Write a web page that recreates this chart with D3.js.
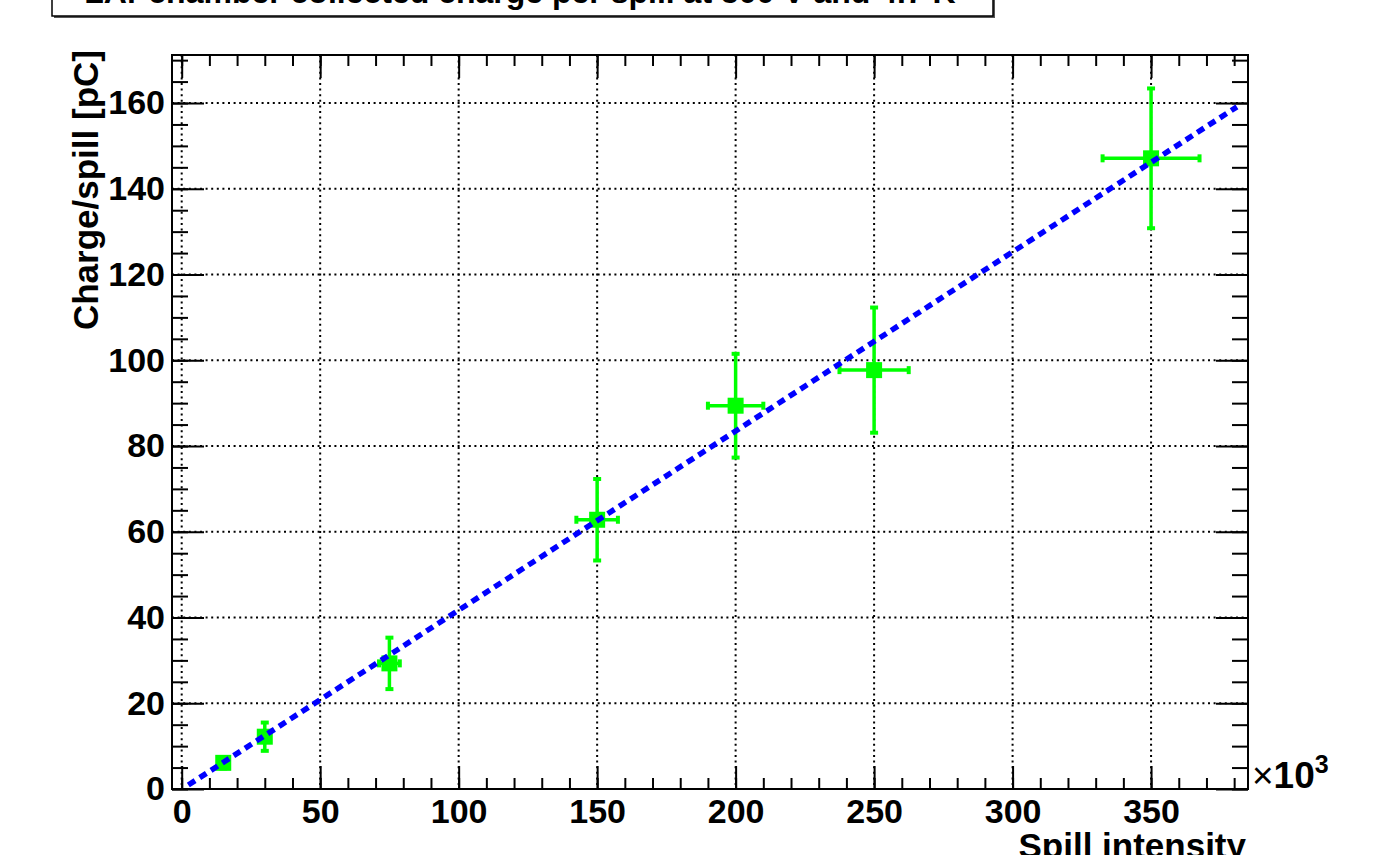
<!DOCTYPE html>
<html>
<head>
<meta charset="utf-8">
<script src="https://cdn.jsdelivr.net/npm/d3@7"></script>
<style>
  html, body { margin: 0; padding: 0; background: #fff; }
  svg { display: block; }
  text { font-family: "Liberation Sans", Arial, Helvetica, sans-serif; font-weight: bold; fill: #000; }
</style>
</head>
<body>
<svg id="chart" width="1387" height="855"></svg>
<script>
// ---- data ----
const titleText = "LAr chamber collected charge per spill at 500 V and 4.7 K";
const xLabel = "Spill intensity";
const yLabel = "Charge/spill [pC]";
const xVals = [15, 30, 75, 150, 200, 250, 350];          // x 10^3
const yVals = [6.1, 12.2, 29.3, 62.8, 89.4, 97.7, 147.1]; // pC
const xErrs = [0.75, 1.5, 3.75, 7.5, 10, 12.5, 17.5];
const yErrs = [1.3, 3.3, 6.0, 9.5, 12.1, 14.6, 16.3];
const fitParams = [0.4178, -0.07];   // slope, intercept
const fitRange = [2.4, 381];
const xMajorTicks = [0, 50, 100, 150, 200, 250, 300, 350];
const yMajorTicks = [0, 20, 40, 60, 80, 100, 120, 140, 160];
const xDomain = [-3.5, 385];
const yDomain = [0, 171.2];

// ---- layout ----
const L = 172, R = 1248, T = 55, B = 789;
const svg = d3.select("#chart");
const x = d3.scaleLinear().domain(xDomain).range([L, R]);
const y = d3.scaleLinear().domain(yDomain).range([B, T]);

// title box
const tb = svg.append("g");
tb.append("rect").attr("x", 54).attr("y", -10).attr("width", 941).attr("height", 28).attr("fill", "#555");
tb.append("rect").attr("x", 52).attr("y", -10).attr("width", 941).attr("height", 26)
  .attr("fill", "#fff").attr("stroke", "#000").attr("stroke-width", 1.5);
tb.append("text").attr("x", 520).attr("y", 3).attr("text-anchor", "middle")
  .attr("font-size", 32).text(titleText);

// grid
const grid = svg.append("g").attr("stroke", "#000").attr("stroke-width", 2)
  .attr("stroke-dasharray", "2,3.6");
grid.selectAll("line.gx").data(xMajorTicks).join("line")
  .attr("x1", d => x(d)).attr("x2", d => x(d)).attr("y1", T).attr("y2", B);
grid.selectAll("line.gy").data(yMajorTicks.filter(d => d > 0)).join("line")
  .attr("x1", L).attr("x2", R).attr("y1", d => y(d)).attr("y2", d => y(d));

// axes
const xMinor = d3.range(0, 381, 10);
const yMinor = d3.range(0, 171, 5);
function styleAxis(g) {
  g.select(".domain").remove();
  g.selectAll("line").attr("stroke", "#000").attr("stroke-width", 2);
  g.selectAll("text").attr("font-size", 34).attr("font-family", "Liberation Sans, Arial, sans-serif").attr("font-weight", "bold");
}
svg.append("g").attr("transform", `translate(0,${B})`)
  .call(d3.axisBottom(x).tickValues(xMinor).tickSize(-11).tickFormat("")).call(styleAxis);
svg.append("g").attr("transform", `translate(0,${B})`)
  .call(d3.axisBottom(x).tickValues(xMajorTicks).tickSize(-23).tickPadding(10).tickFormat(d3.format("d"))).call(styleAxis);
svg.append("g").attr("transform", `translate(0,${T})`)
  .call(d3.axisTop(x).tickValues(xMinor).tickSize(-11).tickFormat("")).call(styleAxis);
svg.append("g").attr("transform", `translate(0,${T})`)
  .call(d3.axisTop(x).tickValues(xMajorTicks).tickSize(-23).tickFormat("")).call(styleAxis);
svg.append("g").attr("transform", `translate(${L},0)`)
  .call(d3.axisLeft(y).tickValues(yMinor).tickSize(-16).tickFormat("")).call(styleAxis);
svg.append("g").attr("transform", `translate(${L},0)`)
  .call(d3.axisLeft(y).tickValues(yMajorTicks).tickSize(-32).tickPadding(7).tickFormat(d3.format("d"))).call(styleAxis);
svg.append("g").attr("transform", `translate(${R},0)`)
  .call(d3.axisRight(y).tickValues(yMinor).tickSize(-16).tickFormat("")).call(styleAxis);
svg.append("g").attr("transform", `translate(${R},0)`)
  .call(d3.axisRight(y).tickValues(yMajorTicks).tickSize(-32).tickFormat("")).call(styleAxis);

// frame
svg.append("rect").attr("x", L).attr("y", T).attr("width", R - L).attr("height", B - T)
  .attr("fill", "none").attr("stroke", "#000").attr("stroke-width", 2);

// data points
const pts = xVals.map((v, i) => ({ x: v, y: yVals[i], ex: xErrs[i], ey: yErrs[i] }));
const green = "#00ff00";
const pg = svg.append("g");
const cap = 4;
pts.forEach(p => {
  const cx = x(p.x), cy = y(p.y);
  const g = pg.append("g").attr("stroke", green);
  g.append("line").attr("x1", cx).attr("x2", cx).attr("y1", y(p.y + p.ey)).attr("y2", y(p.y - p.ey)).attr("stroke-width", 3.5);
  g.append("line").attr("x1", x(p.x - p.ex)).attr("x2", x(p.x + p.ex)).attr("y1", cy).attr("y2", cy).attr("stroke-width", 3.5);
  // caps
  g.append("line").attr("x1", cx - cap).attr("x2", cx + cap).attr("y1", y(p.y + p.ey)).attr("y2", y(p.y + p.ey)).attr("stroke-width", 4);
  g.append("line").attr("x1", cx - cap).attr("x2", cx + cap).attr("y1", y(p.y - p.ey)).attr("y2", y(p.y - p.ey)).attr("stroke-width", 4);
  g.append("line").attr("x1", x(p.x - p.ex)).attr("x2", x(p.x - p.ex)).attr("y1", cy - cap).attr("y2", cy + cap).attr("stroke-width", 4);
  g.append("line").attr("x1", x(p.x + p.ex)).attr("x2", x(p.x + p.ex)).attr("y1", cy - cap).attr("y2", cy + cap).attr("stroke-width", 4);
  pg.append("rect").attr("x", cx - 8).attr("y", cy - 8).attr("width", 16).attr("height", 16).attr("fill", green);
});

// fit line
const fitPts = fitRange.map(v => [v, fitParams[0] * v + fitParams[1]]);
svg.append("path").datum(fitPts)
  .attr("d", d3.line().x(d => x(d[0])).y(d => y(d[1])))
  .attr("fill", "none").attr("stroke", "#0000ff").attr("stroke-width", 5.5)
  .attr("stroke-dasharray", "8,5.5");

// axis titles
svg.append("text").attr("x", R - 2).attr("y", 858).attr("text-anchor", "end")
  .attr("font-size", 35).text(xLabel);
svg.append("text").attr("transform", "translate(98,50) rotate(-90)").attr("text-anchor", "end")
  .attr("font-size", 35).text(yLabel);

// x10^3 multiplier
const mult = svg.append("text").attr("x", 1252).attr("y", 788).attr("font-size", 37);
mult.append("tspan").attr("font-weight", "normal").text("\u00d7");
mult.append("tspan").text("10");
mult.append("tspan").attr("font-size", 25).attr("dy", -15).text("3");
</script>
</body>
</html>
